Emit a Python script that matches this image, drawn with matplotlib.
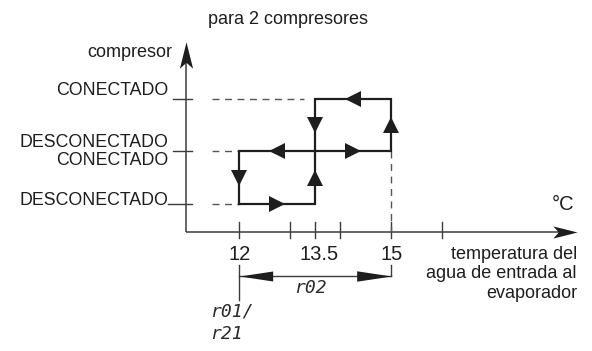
import matplotlib
matplotlib.use("Agg")
import matplotlib.pyplot as plt

plt.rcParams['font.family'] = ['Liberation Sans', 'DejaVu Sans']

# --- data ---
set_temps = [12, 13.5, 15]             # set point, middle, set point + differential
state_levels = [0, 1, 2]
state_labels = ["DESCONECTADO", "DESCONECTADO\nCONECTADO", "CONECTADO"]
tick_temps = [12, 13, 13.5, 14, 15, 16]
label_temps = [12, 13.5, 15]
label_texts = ["12", "13.5", "15"]

# compressor 1 (lower loop) and compressor 2 (upper loop)
loop1_t = [12, 13.5, 13.5, 12, 12]
loop1_lvl = [0, 0, 1, 1, 0]
loop2_t = [13.5, 15, 15, 13.5, 13.5]
loop2_lvl = [1, 1, 2, 2, 1]

INK = "#1e1e1e"
AXC = "#3c3c3c"
DASH = "#555555"


def tx(px):
    """pixel column -> temperature"""
    return 12 + (px - 239) / 50.7


def ly(py):
    """pixel row -> compressor level"""
    return (204 - py) / 52.5


fig = plt.figure(figsize=(5.92, 3.51), dpi=100)
ax = fig.add_axes([0, 0, 1, 1])
ax.set_xlim(tx(0), tx(592))
ax.set_ylim(ly(351), ly(0))
ax.axis("off")

x_axis_lvl = ly(232)
y_axis_t = tx(185.5)

# axes
ax.plot([y_axis_t, tx(566)], [x_axis_lvl, x_axis_lvl], color=AXC, lw=1.1, solid_capstyle="butt")
ax.plot([y_axis_t, y_axis_t], [x_axis_lvl, ly(62)], color=AXC, lw=1.1, solid_capstyle="butt")
head_r = [(1, 0), (-1, 0.5), (-0.55, 0), (-1, -0.5)]
head_u = [(0, 1), (0.5, -1), (0, -0.55), (-0.5, -1)]
ax.plot(tx(565), x_axis_lvl, marker=head_r, ms=17.5, color=INK, mew=0)
ax.plot(y_axis_t, ly(55), marker=head_u, ms=19, color=INK, mew=0)

# axis ticks
for t in tick_temps:
    ax.plot([t, t], [ly(222), ly(238)], color=AXC, lw=1.0)
for lvl in state_levels:
    x0 = tx(168) if lvl == 0 else tx(173)
    ax.plot([x0, tx(192)], [lvl, lvl], color=AXC, lw=1.0)

# dashed guides
dash = dict(color=DASH, lw=1.0, linestyle=(0, (5, 4)))
ax.plot([tx(212), set_temps[0]], [0, 0], **dash)
ax.plot([tx(212), set_temps[0]], [1, 1], **dash)
ax.plot([tx(212), tx(304)], [2, 2], **dash)
ax.plot([set_temps[2], set_temps[2]], [1, x_axis_lvl], **dash)

# hysteresis loops with direction arrows at segment midpoints
for ts, ls in [(loop1_t, loop1_lvl), (loop2_t, loop2_lvl)]:
    ax.plot(ts, ls, color=INK, lw=1.6, solid_joinstyle="miter")
    for i in range(len(ts) - 1):
        dt = ts[i + 1] - ts[i]
        dl = ls[i + 1] - ls[i]
        if dt > 0:
            m = ">"
        elif dt < 0:
            m = "<"
        elif dl > 0:
            m = "^"
        else:
            m = "v"
        ax.plot((ts[i] + ts[i + 1]) / 2, (ls[i] + ls[i + 1]) / 2, marker=m,
                ms=11, color=INK, mew=0)

# state labels
ax.text(tx(168), ly(91), state_labels[2], ha="right", va="center", fontsize=12.8, color=INK)
ax.text(tx(168), ly(151.5), state_labels[1], ha="right", va="center", fontsize=12.8,
        color=INK, linespacing=1.05, multialignment="right")
ax.text(tx(168), ly(201), state_labels[0], ha="right", va="center", fontsize=12.8, color=INK)
ax.text(tx(172), ly(53), "compresor", ha="right", va="center", fontsize=13, color=INK)
ax.text(tx(287.5), ly(20), "para 2 compresores", ha="center", va="center", fontsize=13, color=INK)

# temperature labels
offs = {12: 1, 13.5: 4, 15: 1}
for t, s in zip(label_temps, label_texts):
    ax.text(t + offs[t] / 50.7, ly(255), s, ha="center", va="center", fontsize=14.5,
            color=INK)
ax.text(tx(574), ly(205), "°C", ha="right", va="center", fontsize=14.5, color=INK)
ax.text(tx(577), ly(274), "temperatura del\nagua de entrada al\nevaporador", ha="right",
        va="center", fontsize=13, color=INK, linespacing=1.2, multialignment="right")

# r02 dimension
ax.plot([set_temps[0], set_temps[0]], [ly(265), ly(300)], color=AXC, lw=1.0)
ax.plot([set_temps[2], set_temps[2]], [ly(265), ly(276)], color=AXC, lw=1.0)
dim_lvl = ly(276)
ax.plot([set_temps[0], set_temps[2]], [dim_lvl, dim_lvl], color=AXC, lw=1.0)
long_r = [(1, 0), (-1, 0.3), (-1, -0.3)]
long_l = [(-1, 0), (1, 0.3), (1, -0.3)]
ax.plot(set_temps[0] + 16.5 / 50.7, dim_lvl, marker=long_l, ms=24, color=INK, mew=0)
ax.plot(set_temps[2] - 17.5 / 50.7, dim_lvl, marker=long_r, ms=25, color=INK, mew=0)

seg = dict(family=['DejaVu Sans Mono'], style="italic", fontsize=13, color="#2a2a2a")
ax.text(tx(310), ly(288), "r02", ha="center", va="center", **seg)
ax.text(tx(210), ly(312), "r01/", ha="left", va="center", **seg)
ax.text(tx(210), ly(334), "r21", ha="left", va="center", **seg)

fig.savefig("out.png", dpi=100)
